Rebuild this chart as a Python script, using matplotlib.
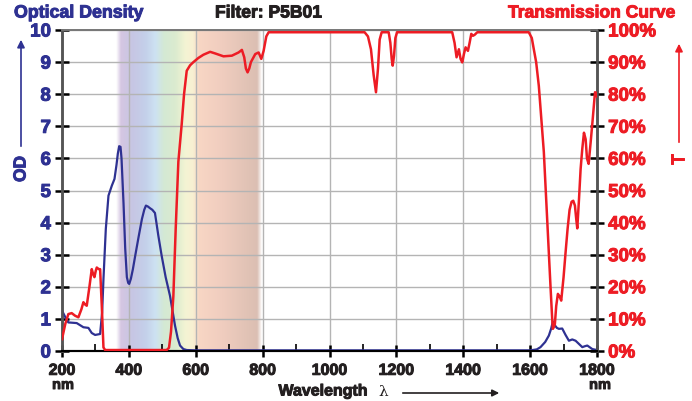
import numpy as np
import matplotlib
matplotlib.use("Agg")
import matplotlib.pyplot as plt
import matplotlib.patheffects as pe
from matplotlib.colors import to_rgb

plt.rcParams['font.family'] = ['Liberation Sans', 'DejaVu Sans']
plt.rcParams['font.weight'] = 'bold'

NAVY = '#2e3192'
RED = '#ed1c24'
DARK = '#231f20'

# optical density curve (nm, OD)
od_nm = [200, 210, 219, 244, 264, 279, 289, 299, 314, 320, 324, 331, 339, 349, 357, 363, 367, 371, 375,
         378, 381, 384, 389, 394, 398, 401, 406, 412, 419, 429, 439, 446, 451, 457, 463, 470, 478, 488,
         498, 510, 523, 538, 546, 553, 563, 573, 600, 1000, 1400, 1601, 1620, 1631, 1645,
         1656, 1663, 1668, 1674, 1680, 1686, 1696, 1706, 1716, 1726, 1736, 1746, 1756, 1764, 1771, 1786, 1800]
od_val = [1.26, 1.05, 0.89, 0.87, 0.74, 0.72, 0.56, 0.50, 0.53, 1.2, 2.24, 3.8, 4.84, 5.15, 5.36, 5.8, 6.15, 6.38, 6.36,
          6.0, 5.3, 4.6, 3.2, 2.3, 2.12, 2.09, 2.25, 2.55, 2.97, 3.55, 4.11, 4.4, 4.53, 4.5, 4.45, 4.4, 4.3, 3.6,
          2.97, 2.3, 1.72, 0.79, 0.4, 0.17, 0.06, 0.03, 0.02, 0.02, 0.02, 0.02, 0.05, 0.12, 0.28,
          0.48, 0.7, 0.92, 0.8, 0.72, 0.69, 0.7, 0.5, 0.32, 0.36, 0.32, 0.22, 0.12, 0.15, 0.17, 0.06, 0.03]

# transmission curve (nm, %)
t_nm = [200, 210, 219, 229, 239, 249, 258, 264, 269, 274, 282, 289, 293, 297, 301, 304, 310, 314, 319, 324,
        329, 513, 520, 526, 533, 540, 548, 558, 565, 573, 583, 593, 608, 623, 643, 658, 683, 708, 728, 738,
        745, 750, 755, 760, 765, 778, 788, 796, 803, 811, 818,
        1105, 1115, 1124, 1132, 1139, 1145, 1150, 1156, 1177, 1182, 1186, 1189, 1193, 1197, 1202,
        1367, 1374, 1380, 1387, 1392, 1397, 1402, 1407, 1414, 1419, 1424, 1429, 1434, 1442,
        1596, 1605, 1611, 1618, 1626, 1641, 1651, 1661, 1666, 1668, 1671, 1674, 1678, 1683, 1688, 1693,
        1700, 1706, 1712, 1718, 1724, 1729, 1734, 1738, 1741, 1746, 1751, 1756, 1761, 1766, 1770, 1775,
        1781, 1787, 1794, 1797, 1800]
t_val = [3.7, 8.5, 11.5, 11.8, 11.0, 10.5, 13.0, 15.2, 14.5, 14.1, 20.0, 25.5, 24.0, 23.0, 25.0, 26.0, 25.5, 25.5, 14, 1.1,
         0.3, 0.3, 1.0, 6, 17, 38, 59, 70.7, 80, 87.3, 89, 90, 91.3, 92.3, 93.2, 92.7, 91.8, 92, 93, 93.8,
         91.5, 88, 86.8, 88, 90, 92.5, 93, 91, 93.5, 98, 99.3,
         99.3, 98, 94, 86, 80.6, 88, 97, 99.3, 99.3, 96, 91, 88.9, 92, 97.5, 99.3,
         99.3, 96, 91.5, 94, 91, 89.9, 92.5, 94.6, 93.5, 96, 98.8, 98.2, 98.5, 99.3,
         99.3, 97.5, 94, 90, 82.6, 62, 41, 20, 10, 6.9, 7.5, 8.4, 14, 17.8, 17, 15.7,
         23, 30.7, 38, 44, 46.5, 46.8, 45.3, 41, 38.2, 47, 56.7, 63, 68, 66, 60, 58.3,
         65, 72, 80.6, 80.5, 79.3]

x_ticks = [200, 400, 600, 800, 1000, 1200, 1400, 1600, 1800]
od_ticks = list(range(0, 11))
t_ticks = list(range(0, 101, 10))

# visible spectrum band colours
band_nm = [362, 380, 410, 450, 480, 505, 540, 570, 592, 610, 680, 760, 798]
band_col = ['#dccde6', '#d4c6e2', '#c7c6e4', '#c4d0ea', '#cde2f2', '#d4e9d4', '#dbebcf', '#f4f4d4',
            '#f8f0d2', '#f8d6c4', '#f0cdbf', '#e0c2b5', '#d9bdb2']

fig = plt.figure(figsize=(6.92, 4.02), dpi=100)
ax = fig.add_axes([62 / 692, 50 / 402, 535 / 692, 321 / 402])
ax.set_xlim(200, 1800)
ax.set_ylim(0, 10)

# spectrum band image
xs = np.linspace(band_nm[0], band_nm[-1], 400)
rgb = np.array([to_rgb(c) for c in band_col])
img = np.zeros((1, len(xs), 4))
for k in range(3):
    img[0, :, k] = np.interp(xs, band_nm, rgb[:, k])
img[0, :, 3] = np.clip(np.minimum((xs - band_nm[0]) / 14, (band_nm[-1] - xs) / 14), 0, 1)
ax.imshow(img, extent=(band_nm[0], band_nm[-1], 0, 10), aspect='auto', zorder=0, interpolation='bilinear')

ax.set_xticks(x_ticks)
ax.set_xticks(range(300, 1800, 200), minor=True)
ax.set_yticks(od_ticks)
ax.grid(True, which='major', color='#b4b4b4', lw=1.0)
for ln in ax.get_xgridlines() + ax.get_ygridlines():
    ln.set_zorder(0.5)

ax.plot(od_nm, od_val, color=NAVY, lw=1.6, zorder=3, solid_joinstyle='round')

ax.tick_params(axis='x', which='major', direction='inout', length=9, width=1.8, color='black',
               labelsize=11.5, labelcolor=DARK, pad=4)
ax.tick_params(axis='x', which='minor', direction='in', length=5, width=1.2, color='black')
ax.tick_params(axis='y', direction='inout', length=10, width=1.8, color='black',
               labelsize=13.5, labelcolor=NAVY, pad=3)
for lab in ax.get_xticklabels():
    lab.set_fontweight('bold')
    lab.set_path_effects([pe.withStroke(linewidth=0.7, foreground=DARK)])
for lab in ax.get_yticklabels():
    lab.set_fontweight('bold')
    lab.set_path_effects([pe.withStroke(linewidth=0.7, foreground=NAVY)])

ax2 = ax.twinx()
ax2.set_ylim(0, 100)
ax2.set_yticks(t_ticks)
ax2.set_yticklabels([f'{v}%' for v in t_ticks])
ax2.tick_params(axis='y', direction='inout', length=10, width=1.8, color='black',
                labelsize=13.5, labelcolor=RED, pad=3)
for lab in ax2.get_yticklabels():
    lab.set_fontweight('bold')
    lab.set_path_effects([pe.withStroke(linewidth=0.7, foreground=RED)])
ax2.plot(t_nm, t_val, color=RED, lw=1.8, zorder=4, solid_joinstyle='round')

for a in (ax, ax2):
    a.spines['left'].set_color('#555555')
    a.spines['right'].set_color('#555555')
    a.spines['left'].set_linewidth(1.8)
    a.spines['right'].set_linewidth(1.8)
    a.spines['top'].set_color('#777777')
    a.spines['top'].set_linewidth(1.2)
    a.spines['bottom'].set_color('black')
    a.spines['bottom'].set_linewidth(1.5)


def heavy(c):
    return [pe.withStroke(linewidth=0.7, foreground=c)]


# header texts
fig.text(14 / 692, 1 - 14 / 402, 'Optical Density', color=NAVY, fontsize=12.8, fontweight='bold',
         va='center', path_effects=heavy(NAVY))
fig.text(215 / 692, 1 - 14 / 402, 'Filter: P5B01', color=DARK, fontsize=12.6, fontweight='bold',
         va='center', path_effects=heavy(DARK))
fig.text(675 / 692, 1 - 14 / 402, 'Transmission Curve', color=RED, fontsize=12.6, fontweight='bold',
         va='center', ha='right', path_effects=heavy(RED))

# nm under end labels
fig.text(63 / 692, 1 - 386 / 402, 'nm', color=DARK, fontsize=10.5, fontweight='bold', ha='center',
         va='center', path_effects=heavy(DARK))
fig.text(600 / 692, 1 - 386 / 402, 'nm', color=DARK, fontsize=10.5, fontweight='bold', ha='center',
         va='center', path_effects=heavy(DARK))

# wavelength label with arrow
fig.text(368 / 692, 1 - 392 / 402, 'Wavelength', color=DARK, fontsize=11.5, fontweight='bold',
         ha='right', va='center', path_effects=heavy(DARK))
fig.text(383 / 692, 1 - 392 / 402, 'λ', color=DARK, fontsize=11, fontweight='normal',
         family='DejaVu Serif', ha='center', va='center')
fig.add_artist(matplotlib.patches.FancyArrowPatch((400 / 692, 1 - 394 / 402), (502 / 692, 1 - 394 / 402),
                                                  transform=fig.transFigure, arrowstyle='-|>',
                                                  mutation_scale=10, color=DARK, lw=1.2))

# OD axis label with up arrow
fig.text(21 / 692, 1 - 170 / 402, 'OD', color=NAVY, fontsize=12.5, fontweight='bold', rotation=90,
         ha='center', va='center', path_effects=heavy(NAVY))
fig.add_artist(matplotlib.patches.FancyArrowPatch((21 / 692, 1 - 150 / 402), (21 / 692, 1 - 38 / 402),
                                                  transform=fig.transFigure, arrowstyle='-|>',
                                                  mutation_scale=11, color=NAVY, lw=1.2))
# T axis label with up arrow
fig.text(679 / 692, 1 - 160 / 402, 'T', color=RED, fontsize=13, fontweight='bold', rotation=90,
         ha='center', va='center', path_effects=heavy(RED))
fig.add_artist(matplotlib.patches.FancyArrowPatch((679 / 692, 1 - 146 / 402), (679 / 692, 1 - 42 / 402),
                                                  transform=fig.transFigure, arrowstyle='-|>',
                                                  mutation_scale=11, color=RED, lw=1.2))

fig.savefig('out.png', dpi=100)
